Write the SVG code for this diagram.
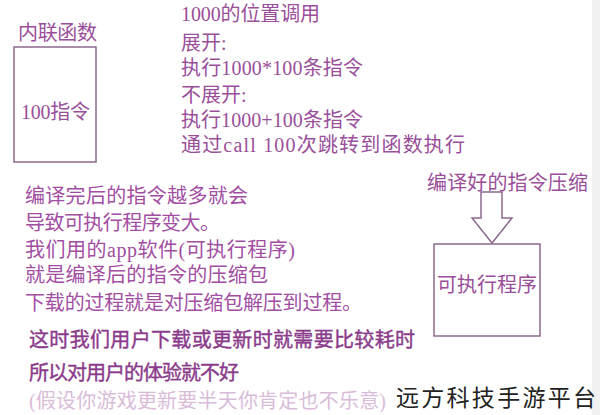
<svg xmlns="http://www.w3.org/2000/svg" width="600" height="415" viewBox="0 0 600 415">
<style>
text{font-family:"Liberation Serif","Noto Sans CJK SC",serif;font-size:20px;}
.t{fill:#9a4f9a;}
.m{fill:#a24ea2;}
.d{fill:#8a3a8a;stroke:#8a3a8a;stroke-width:0.4;}
.l{fill:#d9bcd9;}
.box{fill:none;stroke:#8c6a8c;stroke-width:1.5;}
.wm{font-family:"Noto Sans CJK SC","Noto Sans",sans-serif;font-size:23px;fill:#222;}
</style>
<rect width="600" height="415" fill="#fff"/>
<rect x="592" y="0" width="8" height="415" fill="#f1f1f1"/>
<g id="inline-func">
<text class="t" x="18" y="40" textLength="79">内联函数</text>
<rect class="box" x="14" y="47" width="82" height="115"/>
<text class="t" x="21" y="119" textLength="69">100指令</text>
</g>
<g id="call-notes">
<text class="t" x="181" y="21" textLength="139">1000的位置调用</text>
<text class="t" x="181" y="50">展开:</text>
<text class="t" x="181" y="75" textLength="182">执行1000*100条指令</text>
<text class="t" x="181" y="102">不展开:</text>
<text class="t" x="181" y="127" textLength="182">执行1000+100条指令</text>
<text class="t" x="181" y="152" textLength="284">通过call 100次跳转到函数执行</text>
</g>
<g id="compile-notes">
<text class="m" x="25" y="203" textLength="223">编译完后的指令越多就会</text>
<text class="m" x="25" y="230" textLength="195">导致可执行程序变大。</text>
<text class="m" x="25" y="257" textLength="270">我们用的app软件(可执行程序)</text>
<text class="m" x="25" y="282" textLength="243">就是编译后的指令的压缩包</text>
<text class="m" x="25" y="310" textLength="337">下载的过程就是对压缩包解压到过程。</text>
</g>
<g id="user-notes">
<text class="d" x="29" y="347" textLength="386">这时我们用户下载或更新时就需要比较耗时</text>
<text class="d" x="29" y="380" textLength="210">所以对用户的体验就不好</text>
<text class="l" x="29" y="408" textLength="357">(假设你游戏更新要半天你肯定也不乐意)</text>
</g>
<g id="compress-label">
<text class="t" x="427" y="190" textLength="161">编译好的指令压缩</text>
</g>
<g id="connectors">
<polygon class="box" points="481,192 502,192 502,218 512,218 492,243 472,218 481,218"/>
</g>
<g id="executable">
<rect class="box" x="434" y="244" width="106" height="92"/>
<text class="t" x="437" y="292" textLength="100">可执行程序</text>
</g>
<g id="watermark">
<text class="wm" x="396" y="406" textLength="200">远方科技手游平台</text>
</g>
</svg>
